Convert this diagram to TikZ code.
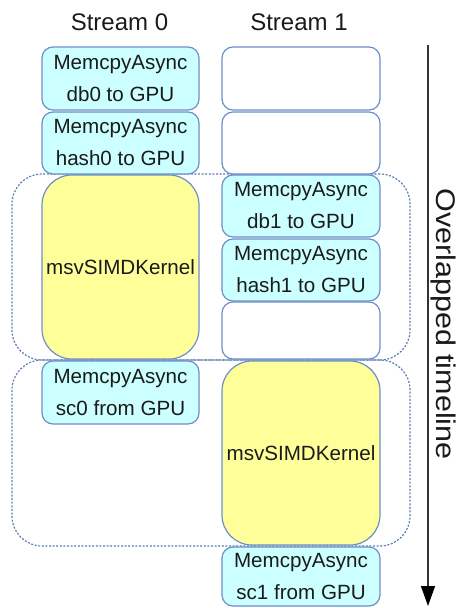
\documentclass[tikz,border=0pt]{standalone}
\usepackage{fontspec}
\usepackage{graphicx}
\setmainfont{Liberation Sans}
\usetikzlibrary{arrows.meta}

\definecolor{edgeblue}{HTML}{6D8FC7}
\definecolor{groupblue}{HTML}{5A7DB3}
\definecolor{copyfill}{HTML}{CCFFFF}
\definecolor{kernelfill}{HTML}{FFFF99}
\definecolor{inktext}{HTML}{1A1A1A}

\begin{document}
\begin{tikzpicture}[x=1pt,y=-1pt,
  cell/.style={draw=edgeblue, line width=1.2pt, rounded corners=11pt,
    inner sep=0pt, align=center, text=inktext,
    font=\fontsize{20.6}{32}\selectfont},
  copycell/.style={cell, fill=copyfill},
  idlecell/.style={cell, fill=white},
  kernelcell/.style={cell, fill=kernelfill, rounded corners=30pt},
  overlapgroup/.style={draw=groupblue, line width=1.2pt,
    dash pattern=on 2pt off 1.6pt, rounded corners=30pt, inner sep=0pt,
    minimum width=398pt, minimum height=186pt},
  header/.style={font=\fontsize{24}{28}\selectfont, text=inktext}
]
\useasboundingbox (0,0) rectangle (460,608);

% overlap windows (behind the stream boxes)
\node[overlapgroup] (win1) at (211,267) {};
\node[overlapgroup] (win2) at (211,453) {};

% stream headers
\node[header] (s0) at (119.5,22) {Stream 0};
\node[header] (s1) at (299,22) {Stream 1};

% stream 0
\node[copycell, minimum width=157pt, minimum height=63pt] (db0) at (120.5,78.5) {MemcpyAsync\\db0 to GPU};
\node[copycell, minimum width=157pt, minimum height=62pt] (hash0) at (120.5,143) {MemcpyAsync\\hash0 to GPU};
\node[kernelcell, minimum width=157pt, minimum height=184pt] (k0) at (120.5,267) {msvSIMDKernel};
\node[copycell, minimum width=157pt, minimum height=63pt] (sc0) at (120.5,392.5) {MemcpyAsync\\sc0 from GPU};

% stream 1
\node[idlecell, minimum width=158pt, minimum height=63pt] (idle1) at (301,78.5) {};
\node[idlecell, minimum width=158pt, minimum height=62pt] (idle2) at (301,143) {};
\node[copycell, minimum width=158pt, minimum height=62pt] (db1) at (301,206) {MemcpyAsync\\db1 to GPU};
\node[copycell, minimum width=158pt, minimum height=62pt] (hash1) at (301,270) {MemcpyAsync\\hash1 to GPU};
\node[idlecell, minimum width=158pt, minimum height=57pt] (idle3) at (301,330.5) {};
\node[kernelcell, minimum width=158pt, minimum height=184pt] (k1) at (301,453) {msvSIMDKernel};
\node[copycell, minimum width=158pt, minimum height=59pt] (sc1) at (301,576.5) {MemcpyAsync\\sc1 from GPU};

% time axis
\coordinate (tstart) at (428,45);
\coordinate (tend) at (428,606);
\draw[draw=black!80, line width=1.3pt,
  -{Triangle[length=20pt,width=14pt,color=black]}] (tstart) -- (tend);
\node[rotate=-90, anchor=base, text=inktext, font=\fontsize{27}{30}\selectfont]
  (tlabel) at (436,324) {\scalebox{1.13}[1]{Overlapped timeline}};
\end{tikzpicture}
\end{document}
